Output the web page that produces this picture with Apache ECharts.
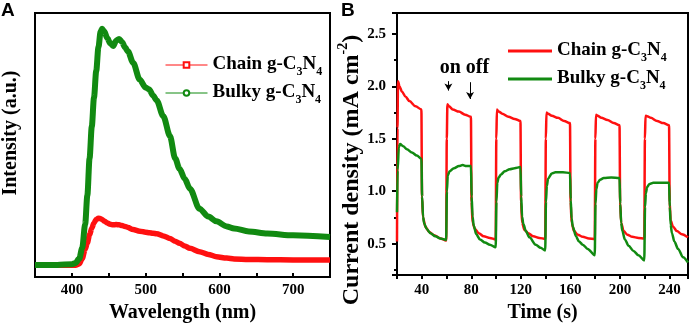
<!DOCTYPE html>
<html>
<head>
<meta charset="utf-8">
<script src="https://cdn.jsdelivr.net/npm/echarts@6/dist/echarts.min.js"></script>
<style>
  html, body { margin: 0; padding: 0; background: #fff; }
  #cht { width: 692px; height: 328px; }
</style>
</head>
<body>
<div id="cht"></div>
<script>
// (A) PL spectra, intensity in arbitrary units
const plWavelength = [350, 380, 400, 405, 410, 414, 418, 421, 424, 427, 430, 433, 436, 439, 441, 444, 448, 452, 456, 460, 464, 468, 472, 476, 483, 492, 500, 505, 510, 515, 524, 533, 540, 546, 553, 560, 573, 585, 596, 610, 620, 640, 665, 700, 750];
const chainPL = [4.5, 4.5, 4.5, 4.5, 5, 7, 10.5, 13, 16, 18.5, 20.5, 21.8, 22.3, 22.1, 21.8, 21.2, 20.5, 20, 19.8, 19.9, 19.8, 19.5, 19.2, 18.8, 18, 17.4, 17, 16.8, 16.6, 16.4, 15.6, 14.6, 13.6, 12.8, 11.8, 10.9, 9.6, 8.6, 7.7, 7.2, 6.9, 6.7, 6.6, 6.5, 6.5];
const bulkyPL = [4.6, 4.6, 4.9, 5.3, 7, 11, 20, 31, 45, 57, 68, 78, 87, 93, 94, 93, 90.5, 88.5, 87.5, 89.5, 90.2, 89, 87, 85.5, 81.2, 74.8, 71.8, 71, 68.8, 66.9, 60.9, 53.4, 45, 41, 37.2, 33.5, 25.9, 22.9, 21.1, 19.2, 18.4, 17.3, 16.5, 15.8, 15.2];

// (B) photocurrent, light on at 20, 60, 100, ... and off at 40, 80, 120, ...
const chainTime = [20, 20.4, 20.8, 22, 24, 27, 30, 35, 39.7, 40.2, 41, 43, 46, 50, 55, 59.7,
  60.2, 60.7, 62, 65, 70, 75, 79.7, 80.2, 81, 83, 86, 90, 95, 99.7,
  100.2, 100.7, 102, 105, 110, 115, 119.7, 120.2, 121, 123, 126, 130, 135, 139.7,
  140.2, 140.7, 142, 145, 150, 155, 159.7, 160.2, 161, 163, 166, 170, 175, 179.7,
  180.2, 180.7, 182, 185, 190, 195, 199.7, 200.2, 201, 203, 206, 210, 215, 219.7,
  220.2, 220.7, 222, 225, 230, 235, 239.7, 240.2, 241, 243, 246, 250, 255];
const chainCurrent = [0.52, 1.6, 2.05, 2.0, 1.95, 1.9, 1.86, 1.81, 1.78, 0.95, 0.75, 0.66, 0.61, 0.58, 0.55, 0.53,
  1.5, 1.83, 1.81, 1.78, 1.76, 1.73, 1.71, 0.9, 0.7, 0.64, 0.6, 0.57, 0.555, 0.54,
  1.5, 1.78, 1.76, 1.74, 1.71, 1.69, 1.67, 0.9, 0.7, 0.63, 0.6, 0.57, 0.555, 0.545,
  1.5, 1.75, 1.74, 1.72, 1.7, 1.67, 1.65, 0.9, 0.7, 0.62, 0.585, 0.565, 0.55, 0.545,
  1.5, 1.73, 1.72, 1.7, 1.68, 1.65, 1.63, 0.9, 0.7, 0.62, 0.585, 0.565, 0.555, 0.55,
  1.5, 1.72, 1.715, 1.7, 1.67, 1.65, 1.63, 0.9, 0.72, 0.66, 0.62, 0.59, 0.56];
const bulkyTime = [20, 20.5, 21.5, 22.5, 25, 28, 32, 36, 39.7, 40.3, 41, 42, 44, 47, 51, 55, 59.7,
  60.3, 61, 62.5, 66, 70, 73, 76, 79.7, 80.3, 81, 82, 84, 87, 91, 95, 99.7,
  100.3, 101, 102, 104, 107, 111, 115, 119.7, 120.3, 121, 122, 124, 127, 132, 136, 139.7,
  140.3, 141, 142, 145, 148, 154, 159.7, 160.3, 161, 162, 164.5, 167, 170, 174, 179.7,
  180.3, 181, 182, 184, 187, 193, 199.7, 200.3, 201, 202, 204, 207, 211, 215, 219.7,
  220.3, 221, 222, 224, 227, 233, 239.7, 240.3, 241, 242, 244, 247, 251, 255];
const bulkyCurrent = [0.8, 1.2, 1.42, 1.45, 1.43, 1.4, 1.37, 1.34, 1.31, 0.95, 0.76, 0.69, 0.64, 0.6, 0.57, 0.55, 0.535,
  1.0, 1.15, 1.19, 1.22, 1.24, 1.25, 1.24, 1.24, 0.95, 0.76, 0.67, 0.59, 0.54, 0.51, 0.49, 0.465,
  0.9, 1.08, 1.13, 1.16, 1.19, 1.21, 1.22, 1.23, 0.95, 0.76, 0.69, 0.62, 0.56, 0.49, 0.46, 0.435,
  0.9, 1.05, 1.12, 1.17, 1.18, 1.18, 1.175, 0.92, 0.74, 0.66, 0.57, 0.52, 0.49, 0.45, 0.39,
  0.88, 1.02, 1.08, 1.11, 1.125, 1.13, 1.125, 0.88, 0.7, 0.62, 0.54, 0.48, 0.43, 0.39, 0.34,
  0.85, 0.98, 1.04, 1.07, 1.08, 1.08, 1.08, 0.85, 0.68, 0.6, 0.52, 0.45, 0.37, 0.32];

// on/off arrows: [time, top, bottom]
const onArrow = [61.5, 2.05, 1.96];
const offArrow = [79, 2.04, 1.88];

const names = {
  chainA: ['Chain g-C', '3', 'N', '4'],
  bulkyA: ['Bulky g-C', '3', 'N', '4'],
  chainB: ['Chain g-C', '3', 'N', '4'],
  bulkyB: ['Bulky g-C', '3', 'N', '4'],
};

const zip = (xs, ys) => xs.map((x, i) => [x, ys[i]]);
const RED = '#ff1010';
const GREEN = '#118a11';
const FONT = 'Liberation Serif';

const rich = {
  b: { fontFamily: FONT, fontWeight: 'bold', fontSize: 19, color: '#000', verticalAlign: 'top', lineHeight: 20 },
  s: { fontFamily: FONT, fontWeight: 'bold', fontSize: 12, color: '#000', verticalAlign: 'top', lineHeight: 12, padding: [11, 0, 0, 0] },
};
const legendFmt = (n) => {
  const p = names[n];
  return `{b|${p[0]}}{s|${p[1]}}{b|${p[2]}}{s|${p[3]}}`;
};

const cht = echarts.init(document.getElementById('cht'));
window.onresize = () => cht.resize();

const labelStyle = { fontFamily: FONT, fontWeight: 'bold', fontSize: 15, color: '#000' };
const nameStyle = { fontFamily: FONT, fontWeight: 'bold', fontSize: 20, color: '#000' };
const bigName = { ...nameStyle, fontSize: 24 };
const axisLine = { show: true, onZero: false, lineStyle: { color: '#000', width: 2 } };

const option = {
  animation: false,
  textStyle: { fontFamily: FONT },
  grid: [
    { left: 35, top: 13, width: 295, height: 266, show: true, borderColor: '#000', borderWidth: 2 },
    { left: 397, top: 13, width: 291, height: 263, show: true, borderColor: '#000', borderWidth: 2 },
  ],
  graphic: [
    { type: 'text', left: 1, top: 1, style: { text: 'A', font: 'bold 19px "Liberation Sans"', fill: '#000' } },
    { type: 'text', left: 341, top: 1, style: { text: 'B', font: 'bold 19px "Liberation Sans"', fill: '#000' } },
  ],
  legend: [
    {
      orient: 'vertical', left: 160, top: 50, itemWidth: 42, itemHeight: 7, itemGap: 5,
      data: ['chainA', 'bulkyA'], formatter: legendFmt,
      textStyle: { rich }, lineStyle: { width: 1 },
    },
    {
      orient: 'vertical', left: 503, top: 36, itemWidth: 44, itemHeight: 3, itemGap: 5,
      icon: 'rect',
      data: ['chainB', 'bulkyB'], formatter: legendFmt,
      textStyle: { rich },
    },
  ],
  xAxis: [
    {
      gridIndex: 0, type: 'value', min: 350, max: 750, interval: 50,
      axisLine, splitLine: { show: false },
      axisTick: { inside: true, length: 4, lineStyle: { color: '#000', width: 2 } },
      axisLabel: { ...labelStyle, margin: 6, formatter: (v) => (v % 100 === 0 ? String(v) : '') },
      name: 'Wavelength (nm)', nameLocation: 'middle', nameGap: 25, nameTextStyle: nameStyle,
    },
    {
      gridIndex: 1, type: 'value', min: 20, max: 255, interval: 20,
      axisLine, splitLine: { show: false },
      axisTick: { inside: false, length: 4, lineStyle: { color: '#000', width: 2 } },
      axisLabel: { ...labelStyle, margin: 8, formatter: (v) => (v % 40 === 0 && v >= 40 ? String(v) : '') },
      name: 'Time (s)', nameLocation: 'middle', nameGap: 25, nameTextStyle: nameStyle,
    },
  ],
  yAxis: [
    {
      gridIndex: 0, type: 'value', min: 0, max: 100,
      axisLine, splitLine: { show: false }, axisTick: { show: false }, axisLabel: { show: false },
      name: 'Intensity (a.u.)', nameLocation: 'middle', nameGap: 14,
      nameTextStyle: { ...nameStyle, padding: [0, 0, 0, 24] },
    },
    {
      gridIndex: 1, type: 'value', min: 0.2, max: 2.7, splitNumber: 5,
      axisLine, splitLine: { show: false },
      axisTick: { inside: false, length: 5, lineStyle: { color: '#000', width: 2 } },
      minorTick: { show: true, splitNumber: 2, length: 3, lineStyle: { color: '#000', width: 2 } },
      axisLabel: { ...labelStyle, margin: 11, showMinLabel: false, showMaxLabel: false, formatter: (v) => v.toFixed(1) },
      name: '{b|Current density (mA cm}{sup|-2}{b|)}', nameLocation: 'middle', nameGap: 30,
      nameTextStyle: {
        ...bigName, padding: [0, 52, 0, 0],
        rich: {
          b: { ...bigName, verticalAlign: 'bottom', lineHeight: 25 },
          sup: { ...bigName, fontSize: 14, verticalAlign: 'bottom', lineHeight: 14, padding: [0, 0, 13, 0] },
        },
      },
    },
  ],
  series: [
    {
      name: 'chainA', type: 'line', xAxisIndex: 0, yAxisIndex: 0,
      data: zip(plWavelength, chainPL), smooth: 0.3, smoothMonotone: 'x',
      showSymbol: false, symbol: 'emptyRect', symbolSize: 7,
      itemStyle: { color: RED }, lineStyle: { color: RED, width: 5.5 },
    },
    {
      name: 'bulkyA', type: 'line', xAxisIndex: 0, yAxisIndex: 0,
      data: zip(plWavelength, bulkyPL), smooth: 0.3, smoothMonotone: 'x',
      showSymbol: false, symbol: 'emptyCircle', symbolSize: 7,
      itemStyle: { color: GREEN }, lineStyle: { color: GREEN, width: 6 },
    },
    {
      name: 'chainB', type: 'line', xAxisIndex: 1, yAxisIndex: 1,
      data: zip(chainTime, chainCurrent), smooth: 0.3, smoothMonotone: 'x',
      symbol: 'none', itemStyle: { color: RED }, lineStyle: { color: RED, width: 2.5 },
      markLine: {
        silent: true, symbol: ['none', 'arrow'], symbolSize: [6, 7],
        label: { show: false },
        lineStyle: { color: '#000', width: 1, type: 'solid' },
        data: [
          [{ coord: [onArrow[0], onArrow[1]] }, { coord: [onArrow[0], onArrow[2]] }],
          [{ coord: [offArrow[0], offArrow[1]] }, { coord: [offArrow[0], offArrow[2]] }],
        ],
      },
      markPoint: {
        silent: true, symbol: 'circle', symbolSize: 0,
        label: { show: true, position: 'inside', formatter: 'on off', ...nameStyle },
        data: [{ coord: [74.4, 2.177] }],
      },
    },
    {
      name: 'bulkyB', type: 'line', xAxisIndex: 1, yAxisIndex: 1,
      data: zip(bulkyTime, bulkyCurrent), smooth: 0.3, smoothMonotone: 'x',
      symbol: 'none', itemStyle: { color: GREEN }, lineStyle: { color: GREEN, width: 2.5 },
    },
  ],
};

cht.setOption(option);
</script>
</body>
</html>
